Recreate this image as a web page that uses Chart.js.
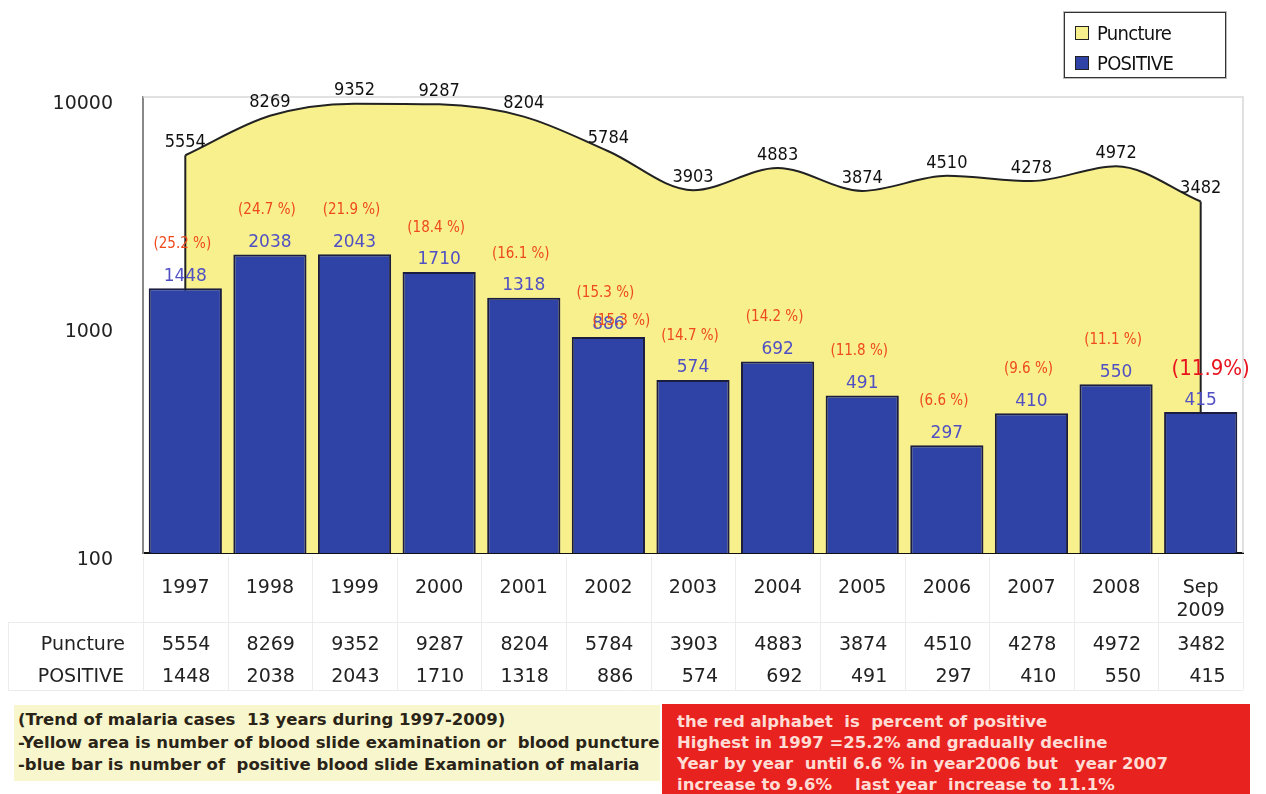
<!DOCTYPE html>
<html>
<head>
<meta charset="utf-8">
<script src="https://cdn.jsdelivr.net/npm/chart.js@4"></script>
<style>
  html, body { margin:0; padding:0; background:#fff; }
  #wrap { position:relative; width:1266px; height:794px; overflow:hidden; font-family:"DejaVu Sans", sans-serif; }
  canvas { position:absolute; left:0; top:0; }
  #legend { position:absolute; left:1064px; top:12px; width:160px; height:64px; border:1px solid #333; box-shadow:0 0 0 1px #bbb; background:#fff; }
  .li { position:absolute; left:10px; height:26px; font-family:"DejaVu Sans Condensed","DejaVu Sans",sans-serif; font-size:20px; color:#111; letter-spacing:-0.7px; line-height:26px; }
  .sw { display:inline-block; width:12px; height:12px; border:1px solid #222; margin-right:8px; vertical-align:0px; }
  #note1 { position:absolute; left:14px; top:705px; width:646px; height:76px; background:#f8f6cc; box-sizing:border-box; padding:4px 0 0 4px; font-family:"DejaVu Sans",sans-serif; font-weight:bold; font-size:16.5px; line-height:22.5px; color:#2a2418; white-space:pre; overflow:hidden; }
  #note2 { position:absolute; left:662px; top:704px; width:588px; height:92px; background:#e8221f; box-sizing:border-box; padding:7px 0 0 15px; font-family:"DejaVu Sans",sans-serif; font-weight:bold; font-size:16.5px; line-height:21px; color:#ffdcd4; white-space:pre; }
</style>
</head>
<body>
<div id="wrap">
  <canvas id="c" width="1266" height="794"></canvas>
  <div id="legend"></div>
  <div id="note1"></div>
  <div id="note2"></div>
</div>
<script>
// ---- data ----
const categories = ['1997','1998','1999','2000','2001','2002','2003','2004','2005','2006','2007','2008',['Sep','2009']];
const puncture = [5554, 8269, 9352, 9287, 8204, 5784, 3903, 4883, 3874, 4510, 4278, 4972, 3482];
const positive = [1448, 2038, 2043, 1710, 1318, 886, 574, 692, 491, 297, 410, 550, 415];
const percentLabels = ['(25.2 %)','(24.7 %)','(21.9 %)','(18.4 %)','(16.1 %)','(15.3 %)','(14.7 %)','(14.2 %)','(11.8 %)','(6.6 %)','(9.6 %)','(11.1 %)','(11.9%)'];
const yTicks = [100, 1000, 10000];
const seriesNames = ['Puncture', 'POSITIVE'];
const noteLeft = [
  '(Trend of malaria cases  13 years during 1997-2009)',
  '-Yellow area is number of blood slide examination or  blood puncture',
  '-blue bar is number of  positive blood slide Examination of malaria'
];
const noteRight = [
  'the red alphabet  is  percent of positive',
  'Highest in 1997 =25.2% and gradually decline',
  'Year by year  until 6.6 % in year2006 but   year 2007',
  'increase to 9.6%    last year  increase to 11.1%'
];

const yellow = '#f7f08c';
const blue = '#2f43a7';
const FONT = '"DejaVu Sans", sans-serif';
const FONTC = '"DejaVu Sans Condensed", "DejaVu Sans", sans-serif';

// ---- HTML legend / notes ----
const legend = document.getElementById('legend');
legend.innerHTML =
  '<div class="li" style="top:7px"><span class="sw" style="background:' + yellow + '"></span>' + seriesNames[0] + '</div>' +
  '<div class="li" style="top:37px"><span class="sw" style="background:' + blue + '"></span>' + seriesNames[1] + '</div>';
document.getElementById('note1').textContent = noteLeft.join('\n');
document.getElementById('note2').textContent = noteRight.join('\n');

// ---- plugins ----
const edgePlugin = {
  id: 'edges',
  afterDatasetDraw(chart, args) {
    if (chart.data.datasets[args.index].type !== 'line') return;
    const meta = chart.getDatasetMeta(args.index);
    const ctx = chart.ctx, bottom = chart.chartArea.bottom;
    const first = meta.data[0], last = meta.data[meta.data.length - 1];
    ctx.save();
    ctx.strokeStyle = '#222';
    ctx.lineWidth = 2;
    ctx.beginPath();
    ctx.moveTo(first.x, first.y); ctx.lineTo(first.x, bottom);
    ctx.moveTo(last.x, last.y); ctx.lineTo(last.x, bottom);
    ctx.stroke();
    ctx.restore();
  }
};

const frameAndTable = {
  id: 'frameTable',
  beforeDatasetsDraw(chart) {
    const { ctx, chartArea: a } = chart;
    ctx.save();
    ctx.strokeStyle = '#d8d8d8';
    ctx.lineWidth = 1.5;
    ctx.beginPath();
    ctx.moveTo(a.left, a.top); ctx.lineTo(a.right, a.top); ctx.lineTo(a.right, a.bottom);
    ctx.stroke();
    ctx.restore();
  },
  afterDraw(chart) {
    const { ctx, chartArea: a, scales: { x } } = chart;
    ctx.save();
    ctx.strokeStyle = '#ececec';
    ctx.lineWidth = 1;
    ctx.beginPath();
    const step = (a.right - a.left) / categories.length;
    for (let i = 0; i <= categories.length; i++) {
      const px = Math.round(a.left + step * i) + 0.5;
      ctx.moveTo(px, a.bottom + 4); ctx.lineTo(px, 690);
    }
    ctx.moveTo(8, 622.5); ctx.lineTo(a.right, 622.5);
    ctx.moveTo(8, 690.5); ctx.lineTo(a.right, 690.5);
    ctx.moveTo(8.5, 622); ctx.lineTo(8.5, 690);
    ctx.stroke();
    ctx.fillStyle = '#222';
    ctx.font = '19px ' + FONT;
    ctx.textBaseline = 'middle';
    ctx.textAlign = 'right';
    ctx.fillText(seriesNames[0], 125, 645);
    ctx.fillText(seriesNames[1], 124, 677);
    for (let i = 0; i < categories.length; i++) {
      const cx = x.getPixelForValue(i);
      ctx.fillText(String(puncture[i]), cx + 25, 645);
      ctx.fillText(String(positive[i]), cx + 25, 677);
    }
    ctx.restore();
  }
};

const valueLabels = {
  id: 'valueLabels',
  afterDatasetsDraw(chart) {
    const ctx = chart.ctx;
    ctx.save();
    ctx.textAlign = 'center';
    ctx.textBaseline = 'middle';
    chart.data.datasets.forEach((ds, di) => {
      const meta = chart.getDatasetMeta(di);
      meta.data.forEach((el, i) => {
        if (ds.type === 'line') {
          ctx.fillStyle = '#111';
          ctx.font = '18px ' + FONTC;
          ctx.fillText(String(puncture[i]), el.x, el.y - 13);
        } else {
          ctx.fillStyle = '#5050c4';
          ctx.font = '17px ' + FONT;
          ctx.fillText(String(positive[i]), el.x, el.y - 12);
          if (i === categories.length - 1) {
            ctx.fillStyle = '#e8141e';
            ctx.font = '22px ' + FONTC;
            ctx.fillText(percentLabels[i], el.x + 10, el.y - 43);
          } else {
            ctx.fillStyle = '#ee4a1c';
            ctx.font = '15px ' + FONTC;
            ctx.fillText(percentLabels[i], el.x - 3, el.y - 44);
            if (i === 5) {
              ctx.fillText(percentLabels[i], el.x + 13, el.y - 16);
            }
          }
        }
      });
    });
    ctx.restore();
  }
};

new Chart(document.getElementById('c'), {
  type: 'bar',
  data: {
    labels: categories,
    datasets: [
      {
        type: 'bar',
        label: seriesNames[1],
        data: positive,
        backgroundColor: blue,
        borderColor: '#1b1d40',
        borderWidth: 2,
        borderSkipped: 'bottom',
        barPercentage: 0.865,
        categoryPercentage: 1.0,
        order: 1
      },
      {
        type: 'line',
        label: seriesNames[0],
        data: puncture,
        borderColor: '#222',
        borderWidth: 2,
        backgroundColor: yellow,
        fill: 'start',
        cubicInterpolationMode: 'monotone',
        pointRadius: 0,
        order: 2
      }
    ]
  },
  options: {
    responsive: false,
    devicePixelRatio: 1,
    animation: false,
    layout: { padding: { top: 97, right: 23, bottom: 171, left: 0 } },
    plugins: { legend: { display: false }, tooltip: { enabled: false } },
    scales: {
      x: {
        grid: { display: false, drawTicks: false },
        border: { display: true, color: '#111', width: 2 },
        ticks: {
          color: '#222',
          font: { size: 19, family: FONT },
          padding: 24,
          maxRotation: 0,
          autoSkip: false,
          lineHeight: 1.15
        },
        afterFit(scale) { scale.height = 70; }
      },
      y: {
        type: 'logarithmic',
        min: 100,
        max: 10000,
        grid: { display: false, drawTicks: false },
        border: { display: true, color: '#888', width: 2 },
        afterBuildTicks(scale) { scale.ticks = yTicks.map(v => ({ value: v })); },
        ticks: {
          color: '#222',
          font: { size: 19, family: FONT },
          padding: 30,
          labelOffset: 7,
          callback: (v) => String(v)
        },
        afterFit(scale) { scale.width = 143; }
      }
    }
  },
  plugins: [edgePlugin, frameAndTable, valueLabels]
});
</script>
</body>
</html>
